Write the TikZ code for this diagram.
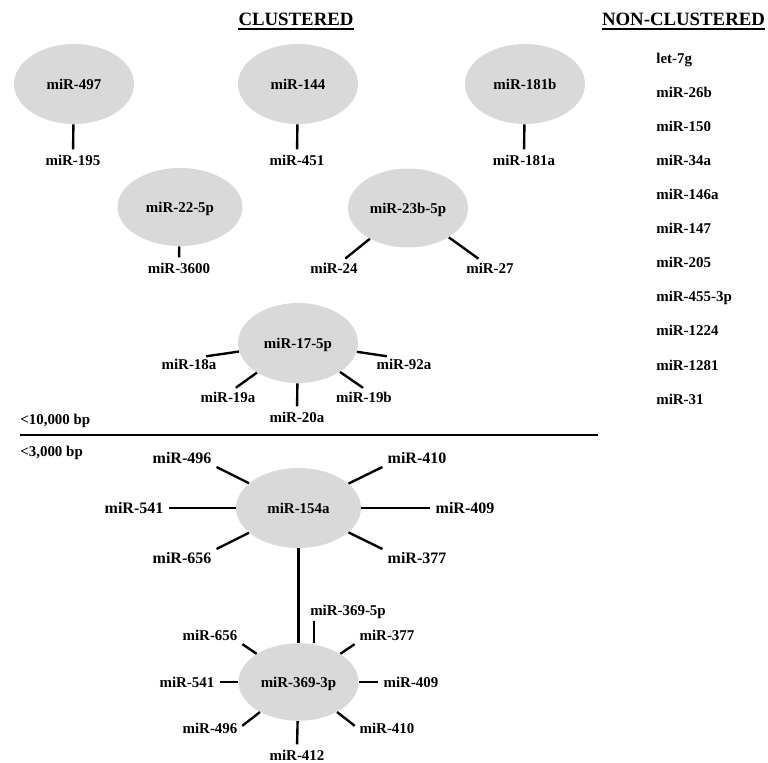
\documentclass[tikz,border=0pt]{standalone}
\usepackage{fontspec}
\setmainfont{Liberation Serif}
\usetikzlibrary{shapes.geometric}
\definecolor{hubgray}{RGB}{217,217,217}
\tikzset{
	hub/.style = {ellipse, fill = hubgray, minimum width = 2.4cm, minimum height = 1.6cm, inner sep = 0pt, text height = 5.8pt, text depth = 0pt, font = \fontsize{8.5}{10}\selectfont\bfseries},
	lab/.style = {inner sep = 1pt, text height = 5.8pt, text depth = 0pt, font = \fontsize{8.5}{10}\selectfont\bfseries},
	biglab/.style = {lab, text height = 6.1pt, font = \fontsize{9.1}{10}\selectfont\bfseries},
	link/.style = {line width = 1.35pt, shorten > = 2pt},
	head/.style = {inner sep = 0pt, font = \fontsize{10.7}{12}\selectfont\bfseries}
}

\begin{document}
\begin{tikzpicture}[x = 0.02cm, y = -0.02cm]
	 \useasboundingbox (0, 0) rectangle (768, 762);
	 
	 \node[head, anchor = base] (tclu) at (296, 25) {CLUSTERED};
	 \node[head, anchor = base] (tnon) at (683.5, 25) {NON-CLUSTERED};
	 \draw[line width = 1.2pt] ([yshift = -2.4pt]tclu.base west) -- ([yshift = -2.4pt]tclu.base east);
	 \draw[line width = 1.2pt] ([yshift = -2.4pt]tnon.base west) -- ([yshift = -2.4pt]tnon.base east);
	 
	 \foreach \name [count = \i from 0] in {let-7g, miR-26b, miR-150, miR-34a, miR-146a, miR-147, miR-205, miR-455-3p, miR-1224, miR-1281, miR-31}
	 \node[lab, anchor = west, inner sep = 0pt] (nc\i) at (656, 58 + 34.1 * \i) {\name};
	 
	 \node[hub] (m497) at (74, 84) {miR-497};
	 \node[hub] (m144) at (298, 84) {miR-144};
	 \node[hub] (m181b) at (525, 84) {miR-181b};
	 \node[hub, minimum width = 2.5cm, minimum height = 1.56cm] (m225p) at (180, 207) {miR-22-5p};
	 \node[hub, minimum height = 1.58cm] (m23b) at (408, 208) {miR-23b-5p};
	 \node[hub] (m175p) at (298, 343) {miR-17-5p};
	 \node[hub, minimum width = 2.5cm] (m154a) at (298.5, 508) {miR-154a};
	 \node[hub, minimum height = 1.55cm] (m3693p) at (298.5, 682) {miR-369-3p};
	 
	 \node[lab] (l195) at (73, 160) {miR-195};
	 \node[lab] (l451) at (297, 160) {miR-451};
	 \node[lab] (l181a) at (524, 160) {miR-181a};
	 \node[lab] (l3600) at (179, 268) {miR-3600};
	 \node[lab] (l24) at (334, 268) {miR-24};
	 \node[lab] (l27) at (490, 268) {miR-27};
	 
	 \node[lab] (l18a) at (189, 364) {miR-18a};
	 \node[lab] (l92a) at (404, 364) {miR-92a};
	 \node[lab] (l19a) at (228, 397) {miR-19a};
	 \node[lab] (l20a) at (297, 417) {miR-20a};
	 \node[lab] (l19b) at (364, 397) {miR-19b};
	 
	 \node[lab, anchor = west, inner sep = 0pt] (d10k) at (20, 419) {<10,000 bp};
	 \node[lab, anchor = west, inner sep = 0pt] (d3k) at (20, 451) {<3,000 bp};
	 \draw[line width = 1.1pt] (20, 435) -- (598, 435);
	 
	 \node[biglab] (l496) at (182, 458) {miR-496};
	 \node[biglab] (l410) at (417, 458) {miR-410};
	 \node[biglab] (l541) at (134, 508) {miR-541};
	 \node[biglab] (l409) at (465, 508) {miR-409};
	 \node[biglab] (l656) at (182, 558) {miR-656};
	 \node[biglab] (l377) at (417, 558) {miR-377};
	 
	 \node[lab] (l3695p) at (348, 610) {miR-369-5p};
	 \node[lab] (l656b) at (210, 635) {miR-656};
	 \node[lab] (l377b) at (387, 635) {miR-377};
	 \node[lab] (l541b) at (187, 682) {miR-541};
	 \node[lab] (l409b) at (411, 682) {miR-409};
	 \node[lab] (l496b) at (210, 728) {miR-496};
	 \node[lab] (l410b) at (387, 728) {miR-410};
	 \node[lab] (l412) at (297, 755) {miR-412};
	 
	 \draw[link] (m497) -- (l195.north);
	 \draw[link] (m144) -- (l451.north);
	 \draw[link] (m181b) -- (l181a.north);
	 \draw[link] (m225p) -- (l3600.north);
	 \draw[link] (m23b) -- (l24.40);
	 \draw[link] (m23b) -- (l27.140);
	 
	 \draw[link] (m175p) -- (l18a.28);
	 \draw[link] (m175p) -- (l92a.152);
	 \draw[link] (m175p) -- (l19a.55);
	 \draw[link] (m175p) -- (l20a.north);
	 \draw[link] (m175p) -- (l19b.75);
	 
	 \draw[link] (m154a) -- (l496.south east);
	 \draw[link] (m154a) -- (l410.south west);
	 \draw[link] (m154a) -- (l541.east);
	 \draw[link] (m154a) -- (l409.west);
	 \draw[link] (m154a) -- (l656.north east);
	 \draw[link] (m154a) -- (l377.north west);
	 \draw[link, shorten > = 0pt] (m154a) -- (m3693p);
	 
	 \draw[link] (m3693p.north -| l3695p.192) -- (l3695p.192);
	 \draw[link] (m3693p) -- (l656b.south east);
	 \draw[link] (m3693p) -- (l377b.south west);
	 \draw[link] (m3693p) -- (l541b.east);
	 \draw[link] (m3693p) -- (l409b.west);
	 \draw[link] (m3693p) -- (l496b.east);
	 \draw[link] (m3693p) -- (l410b.west);
	 \draw[link] (m3693p) -- (l412.north);
\end{tikzpicture}
\end{document}
